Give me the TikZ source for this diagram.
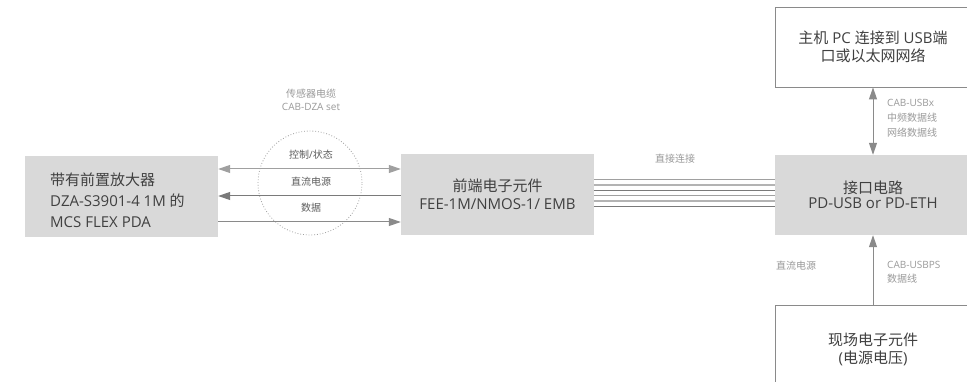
\documentclass[tikz,border=0pt]{standalone}
\usepackage{fontspec}
\setmainfont{Open Sans}
\newfontfamily\cjk{Noto Sans CJK SC}
\usetikzlibrary{arrows.meta}
\definecolor{boxfill}{HTML}{D9D9D9}
\definecolor{txt}{HTML}{404040}
\definecolor{lbl}{HTML}{9A9A9A}
\definecolor{lnA}{HTML}{A0A0A0}
\definecolor{lnB}{HTML}{7A7A7A}
\definecolor{lnC}{HTML}{8A8A8A}
\tikzset{
  graybox/.style={fill=boxfill, draw=none, inner sep=0pt, text=txt, align=center},
  whitebox/.style={fill=white, draw=lnC, line width=0.9pt, inner sep=0pt, text=txt, align=center},
  smalllbl/.style={text=lbl, font=\fontsize{10}{15}\selectfont, inner sep=0pt, align=center},
  circlbl/.style={text=txt!85, font=\fontsize{10}{13}\selectfont, inner sep=0pt},
  arr/.style={line width=1pt, -{Triangle[length=12pt,width=8pt]}},
  darr/.style={line width=1pt, {Triangle[length=12pt,width=8pt]}-{Triangle[length=12pt,width=8pt]}},
  par/.style={line width=1.1pt}
}
\begin{document}
\begin{tikzpicture}[x=1pt,y=-1pt]
\clip (0,0) rectangle (967,382);
\fill[white] (0,0) rectangle (967,382);
% boxes
\node[graybox, minimum width=193pt, minimum height=81pt] (L) at (121.5,196.5) {};
\node[text=txt, inner sep=0pt, align=left, anchor=west, font=\fontsize{15}{21}\selectfont] (Lt) at (50,200)
  {{\cjk 带有前置放大器}\\DZA-S3901-4 1M {\cjk 的}\\MCS FLEX PDA};
\node[graybox, minimum width=193pt, minimum height=81pt, font=\fontsize{15}{18}\selectfont] (F) at (497.5,194.5)
  {{\cjk 前端电子元件}\\FEE-1M/NMOS-1/ EMB};
\node[graybox, minimum width=196pt, minimum height=80pt, font=\fontsize{15}{14.5}\selectfont] (I) at (873,195)
  {{\cjk 接口电路}\\PD-USB or PD-ETH};
\node[whitebox, minimum width=196pt, minimum height=80pt, font=\fontsize{15}{17.5}\selectfont] (H) at (873,47)
  {{\cjk 主机} PC {\cjk 连接到} USB{\cjk 端}\\{\cjk 口或以太网网络}};
\node[whitebox, minimum width=196pt, minimum height=88pt, font=\fontsize{15}{18}\selectfont] (B) at (873,349)
  {{\cjk 现场电子元件}\\({\cjk 电源电压})};
% sensor cable circle
\node[circle, draw=lnA, dotted, line width=0.8pt, minimum size=104pt, inner sep=0pt] (C) at (310,183) {};
\node[smalllbl, font=\fontsize{10}{12.5}\selectfont] (ct) at (311,100) {{\cjk 传感器电缆}\\CAB-DZA set};
\coordinate (r1) at (0,169);
\coordinate (r2) at (0,196);
\coordinate (r3) at (0,222);
\draw[darr, draw=lnA, fill=lnA] (L.east |- r1) -- (F.west |- r1);
\draw[arr, draw=lnB, fill=lnB] (F.west |- r2) -- (L.east |- r2);
\draw[arr, draw=lnC, fill=lnC] (L.east |- r3) -- (F.west |- r3);
\node[circlbl] (c1) at (311,155) {{\cjk 控制}/{\cjk 状态}};
\node[circlbl] (c2) at (311,182) {\cjk 直流电源};
\node[circlbl] (c3) at (311,208) {\cjk 数据};
% direct connection lines
\foreach \yy/\cc in {179.3/lnA, 185/lnA!80, 190.3/lnB, 195.7/lnA, 201/lnA!80, 206.3/lnB}{
  \coordinate (p) at (0,\yy);
  \draw[par, draw=\cc] (F.east |- p) -- (I.west |- p);
}
\node[smalllbl] (dl) at (675,159) {\cjk 直接连接};
% vertical arrows
\draw[darr, draw=lnC, fill=lnC] (H.south) -- (I.north);
\draw[arr, draw=lnC, fill=lnC] (B.north) -- (I.south);
\node[smalllbl, anchor=north west, align=left] (ul) at (887,99) {CAB-USBx\\{\cjk 中频数据线}\\{\cjk 网络数据线}};
\node[smalllbl, anchor=north west, align=left, font=\fontsize{10}{14}\selectfont] (pl) at (887,261) {CAB-USBPS\\{\cjk 数据线}};
\node[smalllbl, anchor=north west] (dc) at (776,261) {\cjk 直流电源};
\end{tikzpicture}
\end{document}
